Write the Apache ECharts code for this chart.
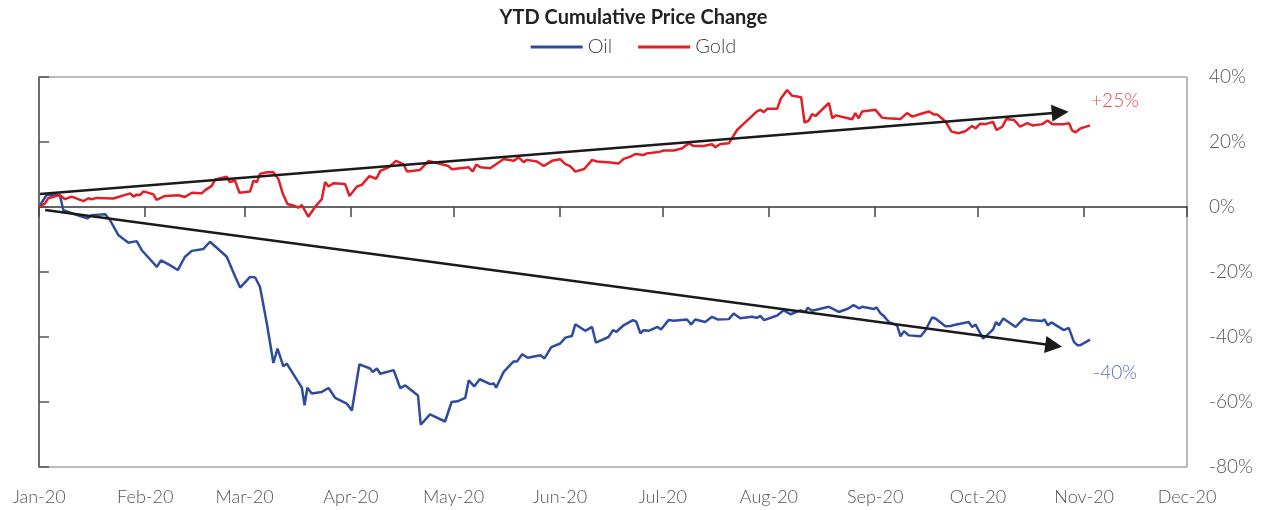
<!DOCTYPE html>
<html>
<head>
<meta charset="utf-8">
<script src="https://cdn.jsdelivr.net/npm/echarts@6.0.0/dist/echarts.min.js"></script>
<style>
  * { margin: 0; padding: 0; }
  body { background: #fff; }
</style>
</head>
<body>
<div id="main" style="width:1267px;height:510px"></div>
<script>
// x values are days since 1 Jan 2020, y values are cumulative % change
var monthStarts = [0, 31, 60, 91, 121, 152, 182, 213, 244, 274, 305, 335];
var monthLabels = ['Jan-20', 'Feb-20', 'Mar-20', 'Apr-20', 'May-20', 'Jun-20',
  'Jul-20', 'Aug-20', 'Sep-20', 'Oct-20', 'Nov-20', 'Dec-20'];
var yTicks = [-80, -60, -40, -20, 0, 20, 40];

var goldDays = [0, 1.8, 2.7, 6, 7.6, 9.5, 13, 14.4, 15.4, 16.8, 21.7, 26.6, 27.6, 28.5, 29.5, 30.5,
  33.4, 34.3, 36.8, 40.7, 42.6, 44.6, 47.5, 48.5, 50.4, 51.4, 54.8, 55.6, 57.2, 58.5, 61.6, 62.6,
  63.6, 64.5, 66.5, 68.4, 69.9, 71.1, 72.5, 74.7, 75.7, 76.7, 78.6, 80.6, 82.5, 83.5, 84.5, 85.9,
  89.3, 90.6, 92.8, 94.2, 96.4, 98.4, 99.6, 102, 104.2, 106.4, 107.4, 111.2, 113.7, 116.6, 119.5,
  120.5, 125.4, 126.6, 127.6, 128.8, 131.7, 135.6, 138.5, 140, 141.4, 142.4, 145.3, 147.3, 149.7,
  152.1, 153.6, 155, 156.5, 159.1, 161.4, 162.8, 166.7, 169.2, 170.6, 172.6, 174, 176.4, 177.4,
  180.8, 182.3, 185.2, 187.6, 189.6, 191, 193.9, 196.4, 197.4, 198.8, 201.3, 203.7, 205.6, 209.5,
  210.5, 211.5, 212.5, 215.4, 216.4, 218.3, 219.8, 222.4, 223.4, 224.6, 225.6, 226.6, 230.5, 231.5,
  232.5, 237.3, 238.2, 239.2, 240.2, 244.1, 246, 247.5, 251.4, 253.3, 254.8, 257.2, 259.7, 261.1,
  262.1, 264.5, 266.3, 268.4, 270.4, 272.3, 273.3, 274.6, 276.2, 278.4, 279.4, 281.1, 282.3, 284.5,
  286.3, 288.4, 289.9, 292.8, 294.3, 295.7, 299.1, 300.6, 301.5, 302.5, 304, 306.7];
var goldValues = [0, 1.1, 2.7, 3.7, 2.4, 3.2, 1.8, 2.7, 2.4, 2.8, 2.6, 4.2, 3.2, 3.8, 3.7, 4.8,
  3.9, 2.2, 3.4, 3.6, 3.1, 4.4, 4.2, 5.2, 6.5, 8.5, 9.3, 7.7, 8.1, 4.4, 4.8, 8.1,
  7.7, 10.2, 10.7, 10.7, 8.5, 4.2, 0.9, 0.3, -0.2, 0.6, -3.0, 0.1, 2.4, 7.7, 6.3, 7.3,
  7.1, 3.4, 6.3, 6.8, 9.5, 8.7, 11.1, 12.2, 14.2, 13.1, 10.9, 11.4, 14.2, 13.4, 12.6,
  11.6, 12.2, 10.9, 13.1, 12.2, 11.9, 14.8, 14.2, 15.3, 13.8, 14.5, 14.0, 12.6, 14.2,
  14.7, 13.2, 12.6, 10.9, 11.7, 14.5, 14.0, 13.7, 13.4, 14.8, 15.5, 16.3, 16.0, 16.5,
  16.9, 17.4, 17.4, 18.0, 19.6, 18.8, 18.8, 19.3, 18.4, 19.4, 19.6, 23.7, 25.6, 29.4,
  29.9, 29.2, 30.2, 30.2, 33.2, 36.0, 34.2, 33.8, 26.0, 26.6, 28.6, 28.0, 32.0, 27.3,
  28.2, 27.0, 28.9, 27.3, 29.4, 29.9, 27.5, 27.3, 27.1, 28.9, 27.8, 28.6, 29.4, 28.5,
  28.5, 26.3, 23.2, 22.7, 23.4, 24.9, 24.2, 25.6, 25.5, 26.2, 23.7, 24.7, 27.1, 26.8,
  24.7, 25.8, 25.1, 25.5, 26.6, 25.5, 25.5, 25.8, 23.5, 23.0, 24.2, 25.1];

var oilDays = [0, 2.2, 6.1, 7.1, 12, 14.1, 15.4, 19.3, 20.7, 23.2, 26.1, 28.5, 30, 34.4, 35.6, 38.2,
  40.5, 42.6, 44.6, 48, 49.9, 54.8, 57.2, 58.7, 61.6, 63.1, 64.5, 66.5, 68.4, 69.6, 71.3, 72.3,
  76.7, 77.5, 78.3, 79.6, 82.5, 84.5, 86.4, 89.8, 91.3, 93.5, 96.6, 97.4, 98.6, 99.6, 103.5, 105.4,
  106.9, 110.6, 111.4, 114.1, 118.5, 120.4, 122.1, 124.4, 125.4, 127, 128.6, 131.7, 132.7, 133.4,
  135.6, 138.5, 139.5, 141, 142.6, 146.3, 147.5, 149.5, 152.1, 153.6, 155.5, 156.5, 159.4, 161.4,
  162.5, 166.2, 167.5, 168.5, 170.6, 173.3, 174.3, 175.5, 176.4, 177.9, 180.5, 181.5, 183.7, 185.2,
  189.1, 190.3, 191.5, 194.4, 196.4, 198, 201.3, 202.7, 204.6, 208, 209.5, 210.5, 211.6, 215.4,
  217.3, 219.3, 222.2, 223.7, 224.3, 225.6, 230.5, 233.4, 236, 237.7, 239.4, 240.2, 243.6, 244.4,
  245.6, 246.5, 248, 250.4, 251.4, 252.4, 253.8, 257.3, 258.7, 260.6, 261.6, 264.5, 266, 267.4,
  271.3, 272.3, 273.3, 275.5, 277.2, 278.4, 279.3, 280.1, 281.4, 285, 287.4, 288.9, 292.7, 293.4,
  294.4, 295.4, 299.1, 300.5, 302, 303, 303.9, 306.7];
var oilValues = [0, 3.7, 3.7, -1.0, -2.8, -3.5, -2.5, -2.2, -4.0, -8.7, -11.0, -10.5, -13.3, -18.4, -16.4, -17.9,
  -19.4, -15.3, -13.5, -12.9, -10.7, -15.3, -21.3, -24.8, -21.5, -21.7, -24.6, -35.9, -48.0, -43.6, -49.0, -48.2,
  -55.6, -61.0, -55.6, -57.4, -56.9, -55.7, -58.7, -60.5, -62.6, -48.4, -49.7, -50.8, -49.7, -51.3, -50.2, -55.7,
  -54.9, -58.0, -67.0, -63.8, -66.0, -60.0, -59.8, -58.7, -53.3, -55.2, -53.0, -54.5, -54.3, -55.6,
  -50.7, -47.5, -47.5, -45.3, -46.4, -45.6, -46.6, -43.1, -42.0, -40.2, -39.7, -36.1, -38.1, -36.9,
  -41.7, -40.0, -37.9, -38.4, -36.4, -34.8, -35.3, -38.9, -37.9, -38.1, -36.9, -37.7, -34.8, -35.0,
  -34.6, -36.1, -34.6, -35.4, -33.8, -34.6, -34.5, -32.8, -34.2, -33.8, -34.1, -33.5, -34.8, -33.4,
  -31.8, -33.0, -31.8, -32.2, -31.0, -31.9, -30.7, -32.3, -31.3, -30.2, -31.2, -30.7, -31.4, -30.9,
  -32.8, -33.5, -35.4, -36.4, -39.8, -38.2, -39.5, -39.8, -37.9, -34.0, -34.3, -36.7, -36.6, -36.2,
  -35.4, -36.9, -36.2, -40.5, -38.9, -37.7, -35.4, -36.4, -34.3, -36.9, -34.3, -34.8, -35.1, -34.6,
  -36.4, -35.5, -37.9, -37.2, -41.5, -42.5, -42.5, -40.8];

// trend arrows [day, %] start -> end (end = centre of the arrowhead)
var goldTrend = [[0.3, 4.0], [298, 29.1]];
var oilTrend = [[1.8, -0.9], [296.1, -42.65]];

var gold = goldDays.map(function (d, i) { return [d, goldValues[i]]; });
var oil = oilDays.map(function (d, i) { return [d, oilValues[i]]; });

var fontFamily = 'Lato, "Open Sans", sans-serif';

function trendLine(pts) {
  return {
    silent: true,
    symbol: ['none', 'triangle'],
    symbolSize: 17,
    label: { show: false },
    lineStyle: { color: '#1a1a1a', width: 2.5, type: 'solid' },
    emphasis: { disabled: true },
    data: [[{ coord: pts[0] }, { coord: pts[1] }]]
  };
}

function endNote(text, pos, color) {
  return {
    silent: true,
    symbolSize: 0,
    label: {
      show: true,
      position: 'inside',
      formatter: text,
      color: color,
      fontSize: 19,
      fontWeight: 300,
      fontFamily: fontFamily
    },
    data: [{ coord: pos }]
  };
}

var myChart = echarts.init(document.getElementById('main'));
myChart.setOption({
  animation: false,
  textStyle: { fontFamily: fontFamily },
  title: {
    text: 'YTD Cumulative Price Change',
    left: 'center',
    top: 3,
    textStyle: { fontSize: 20, fontWeight: 'bold', color: '#222', fontFamily: fontFamily }
  },
  legend: {
    top: 32,
    left: 'center',
    icon: 'rect',
    itemWidth: 52,
    itemHeight: 3,
    itemGap: 26,
    data: ['Oil', 'Gold'],
    textStyle: { fontSize: 20, color: '#444', fontWeight: 300, fontFamily: fontFamily }
  },
  grid: {
    left: 39,
    right: 80,
    top: 77,
    bottom: 43,
    show: true,
    borderColor: '#777',
    borderWidth: 1,
    outerBoundsMode: 'none'
  },
  xAxis: [
    {
      // month labels along the bottom
      type: 'value',
      min: 0,
      max: 335,
      position: 'bottom',
      axisLine: { show: false, onZero: false },
      axisTick: { show: false },
      splitLine: { show: false },
      axisLabel: {
        customValues: monthStarts,
        margin: 21,
        fontSize: 18,
        color: '#555',
        fontWeight: 300,
        formatter: function (v) { return monthLabels[monthStarts.indexOf(v)]; }
      }
    },
    {
      // axis line with month ticks at 0%
      type: 'value',
      min: 0,
      max: 335,
      position: 'top',
      axisLine: { show: true, onZero: true, lineStyle: { color: '#333', width: 1.5 } },
      axisTick: { show: true, inside: true, length: 10, customValues: monthStarts, lineStyle: { color: '#444', width: 1.5 } },
      axisLabel: { show: false },
      splitLine: { show: false }
    }
  ],
  yAxis: {
    type: 'value',
    position: 'right',
    min: -80,
    max: 40,
    interval: 20,
    axisLine: { show: true, lineStyle: { color: '#555', width: 1.5 } },
    axisTick: { show: true, length: 10, customValues: yTicks, lineStyle: { color: '#555', width: 1.5 } },
    splitLine: { show: false },
    axisLabel: {
      margin: 22,
      fontSize: 19,
      color: '#555',
      fontWeight: 300,
      formatter: '{value}%'
    }
  },
  series: [
    {
      name: 'Oil',
      type: 'line',
      xAxisIndex: 0,
      data: oil,
      symbol: 'none',
      color: '#2f4b9f',
      lineStyle: { width: 2.5, color: '#2f4b9f' },
      markLine: trendLine(oilTrend),
      markPoint: endNote('-40%', [314, -51], '#5f70c0')
    },
    {
      name: 'Gold',
      type: 'line',
      xAxisIndex: 0,
      data: gold,
      symbol: 'none',
      color: '#e31e26',
      lineStyle: { width: 2.5, color: '#e31e26' },
      markLine: trendLine(goldTrend),
      markPoint: endNote('+25%', [314, 32.6], '#e8474e')
    }
  ]
});
</script>
</body>
</html>
